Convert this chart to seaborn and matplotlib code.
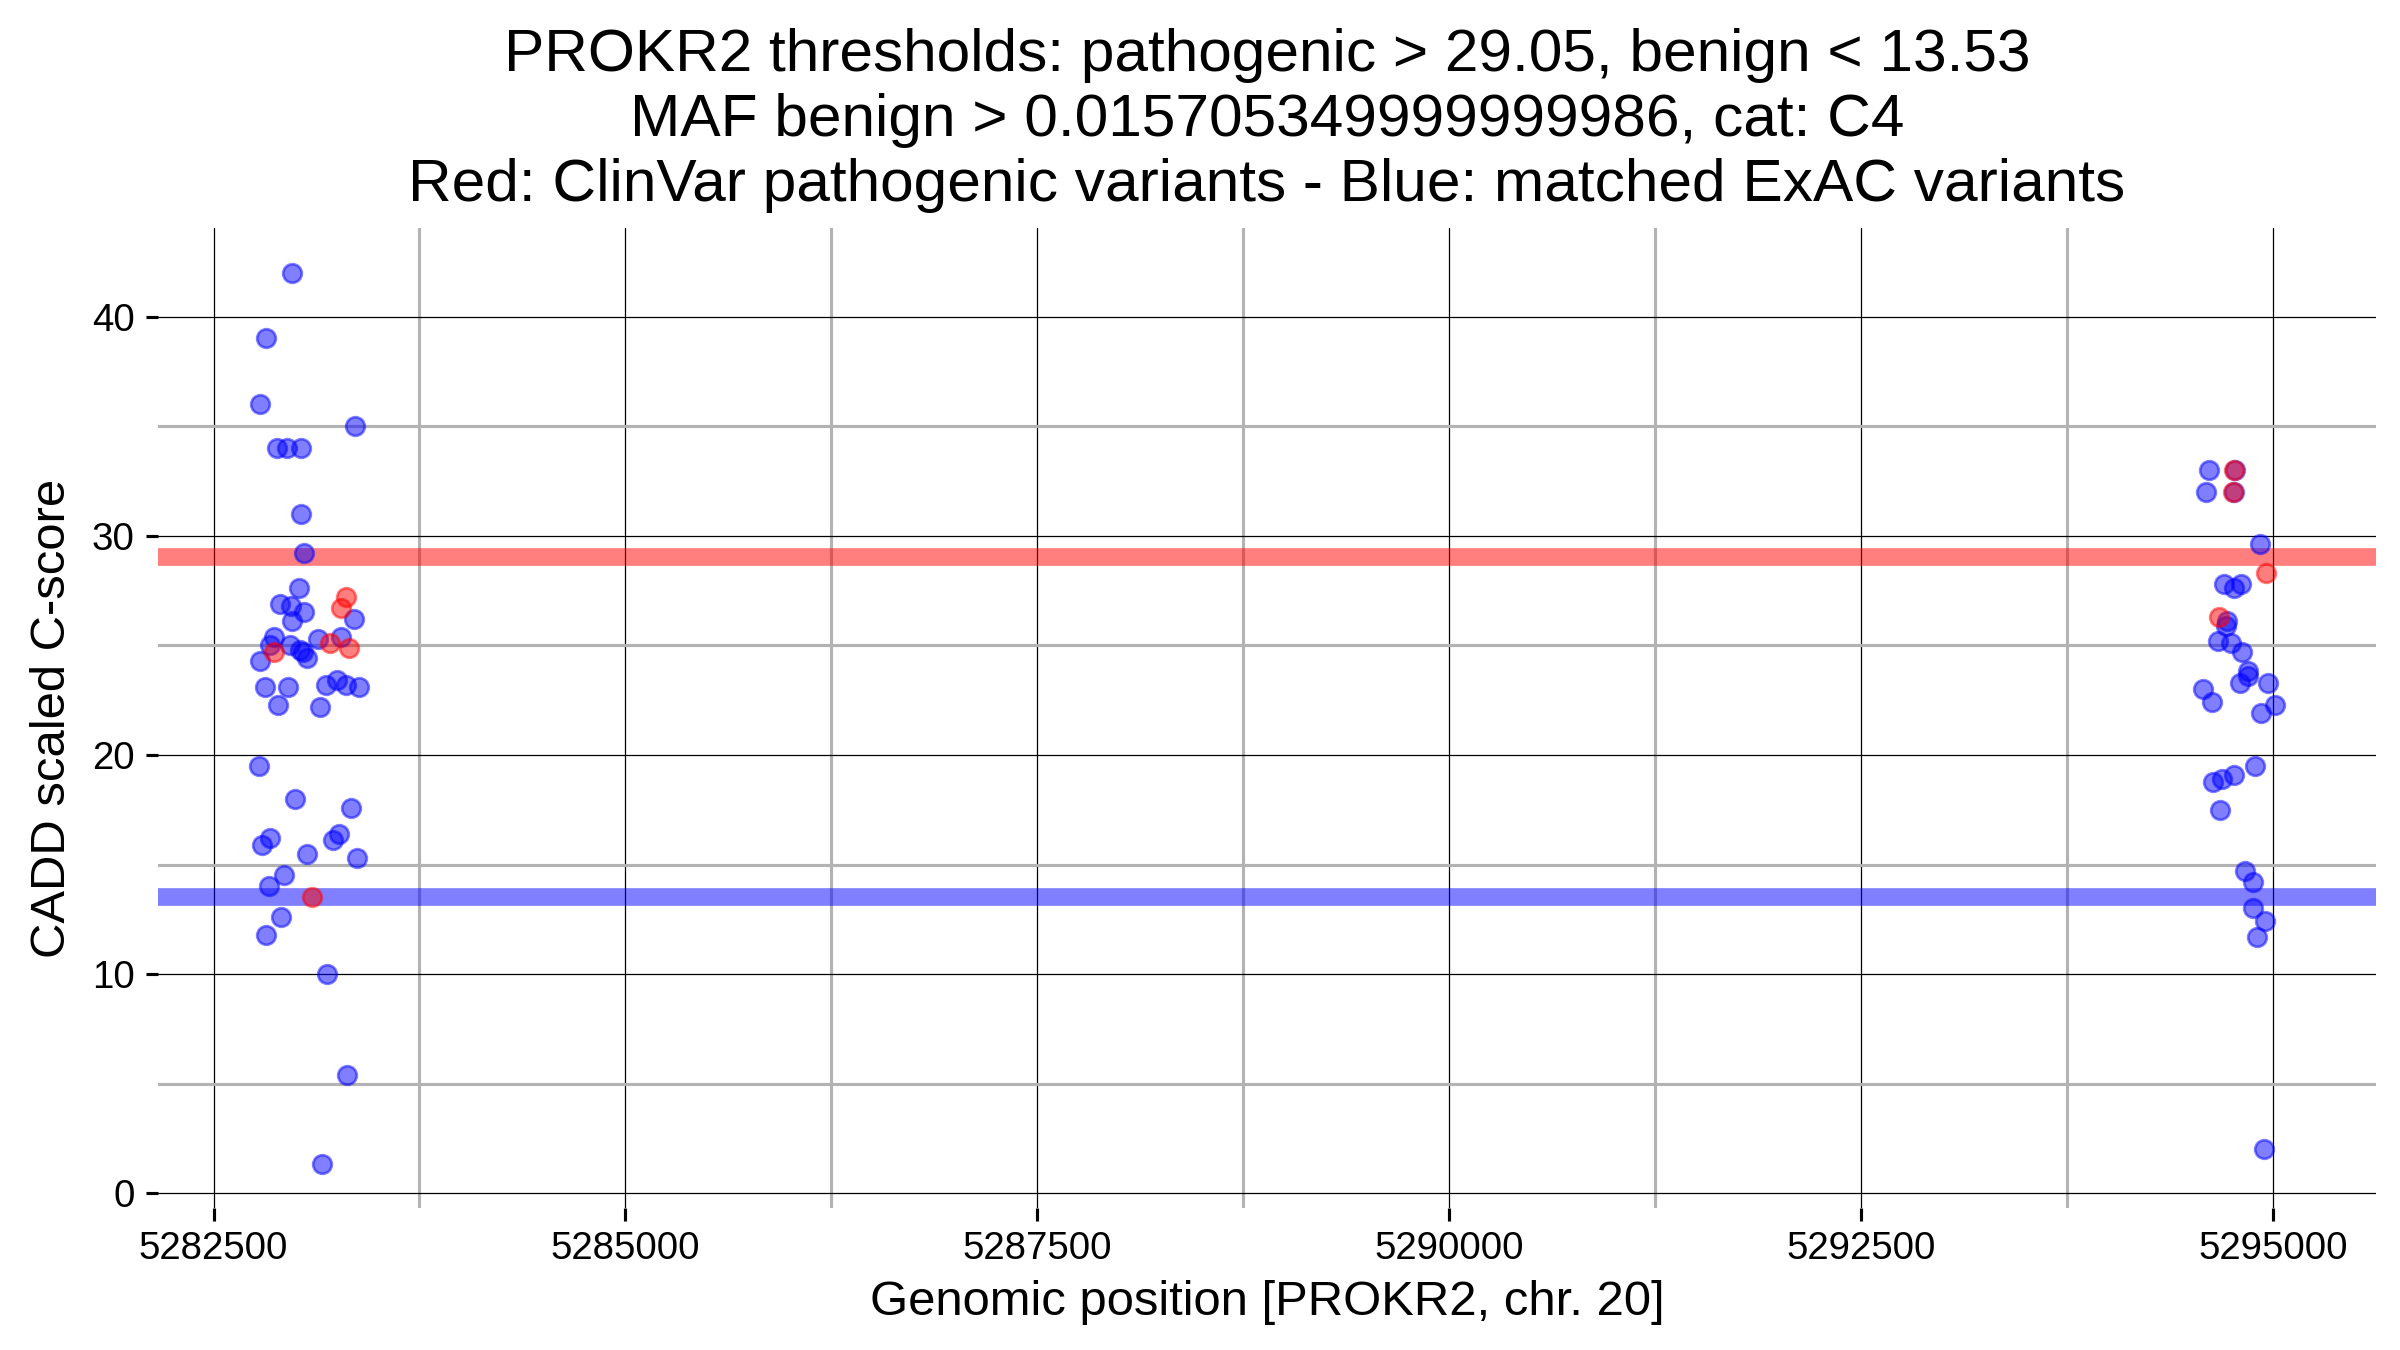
import matplotlib
matplotlib.use("Agg")
import matplotlib.pyplot as plt
import seaborn as sns
from matplotlib.ticker import MultipleLocator

# ExAC matched variants (blue)
exac_pos = [
    5282978, 5282818, 5282784, 5283356, 5282885, 5282946, 5283033, 5283033,
    5283051, 5283019, 5282901, 5282972, 5283047, 5283350, 5282978, 5282870,
    5283134, 5283274, 5282844, 5282962, 5283027, 5283041, 5283067, 5282784,
    5282814, 5282955, 5283183, 5283249, 5283304, 5283381, 5282891, 5283144,
    5282773, 5282996, 5283334, 5282794, 5282840, 5283223, 5283260, 5283067,
    5283371, 5282929, 5282836, 5282909, 5282818, 5283189, 5283312, 5283156,
    5294615, 5294771, 5294595, 5294767, 5294919, 5294706, 5294807, 5294763,
    5294723, 5294716, 5294666, 5294747, 5294814, 5294848, 5294852, 5294803,
    5294973, 5294575, 5294630, 5295014, 5294929, 5294894, 5294763, 5294692,
    5294636, 5294682, 5294828, 5294879, 5294879, 5294955, 5294905, 5294945,
]
exac_score = [
    42.0, 39.0, 36.0, 35.0, 34.0, 34.0, 34.0, 31.0,
    29.2, 27.6, 26.9, 26.8, 26.5, 26.2, 26.1, 25.4,
    25.3, 25.4, 25.0, 25.0, 24.8, 24.7, 24.4, 24.3,
    23.1, 23.1, 23.2, 23.4, 23.2, 23.1, 22.3, 22.2,
    19.5, 18.0, 17.6, 15.9, 16.2, 16.1, 16.4, 15.5,
    15.3, 14.5, 14.0, 12.6, 11.8, 10.0, 5.4, 1.35,
    33.0, 33.0, 32.0, 32.0, 29.6, 27.8, 27.8, 27.6,
    26.1, 25.9, 25.2, 25.1, 24.7, 23.85, 23.6, 23.3,
    23.3, 23.0, 22.4, 22.3, 21.9, 19.5, 19.1, 18.9,
    18.75, 17.5, 14.7, 14.2, 13.0, 12.4, 11.7, 2.0,
]

# ClinVar pathogenic variants (red)
clinvar_pos = [5283304, 5283276, 5283209, 5283322, 5282870, 5283098,
               5294762, 5294760, 5294959, 5294672]
clinvar_score = [27.2, 26.7, 25.1, 24.9, 24.7, 13.5,
                 33.0, 32.0, 28.3, 26.3]

pathogenic_thr = 29.05
benign_thr = 13.53

title = ("PROKR2 thresholds: pathogenic > 29.05, benign < 13.53\n"
         "MAF benign > 0.015705349999999986, cat: C4\n"
         "Red: ClinVar pathogenic variants - Blue: matched ExAC variants")

sns.set_theme(style="white")
plt.rcParams['font.family'] = ['Liberation Sans', 'DejaVu Sans']
plt.rcParams['text.color'] = 'black'
plt.rcParams['axes.labelcolor'] = 'black'
plt.rcParams['xtick.color'] = 'black'
plt.rcParams['ytick.color'] = 'black'

fig = plt.figure(figsize=(16, 9), dpi=150)
ax = fig.add_axes([0.0657, 0.105, 0.9243, 0.726])

ax.axhline(pathogenic_thr, color="red", alpha=0.5, lw=8.5, zorder=2)
ax.axhline(benign_thr, color="blue", alpha=0.5, lw=8.5, zorder=2)

sns.scatterplot(x=exac_pos, y=exac_score, color="blue", alpha=0.5, s=80,
                edgecolor="blue", linewidth=1.3, ax=ax, zorder=3)
sns.scatterplot(x=clinvar_pos, y=clinvar_score, color="red", alpha=0.5, s=80,
                edgecolor="red", linewidth=1.3, ax=ax, zorder=3)

ax.margins(0.05)
ax.xaxis.set_major_locator(MultipleLocator(2500))
ax.xaxis.set_minor_locator(MultipleLocator(1250))
ax.yaxis.set_major_locator(MultipleLocator(10))
ax.yaxis.set_minor_locator(MultipleLocator(5))
ax.ticklabel_format(useOffset=False, style="plain")

ax.grid(which="major", color="black", lw=0.6, zorder=1)
ax.grid(which="minor", color="#b3b3b3", lw=1.5, zorder=1)
ax.set_axisbelow(True)
for sp in ax.spines.values():
    sp.set_visible(False)

ax.tick_params(which="major", length=6, width=1.5, color="black",
               labelsize=18.5, labelcolor="black", pad=5,
               left=True, bottom=True)
ax.tick_params(which="minor", length=0)

ax.set_xlabel("Genomic position [PROKR2, chr. 20]", fontsize=23.5, labelpad=6)
ax.set_ylabel("CADD scaled C-score", fontsize=23.5, labelpad=8)
ax.set_title(title, fontsize=29, linespacing=1.23, pad=13, color="black")

fig.savefig("out.png", dpi=150)
